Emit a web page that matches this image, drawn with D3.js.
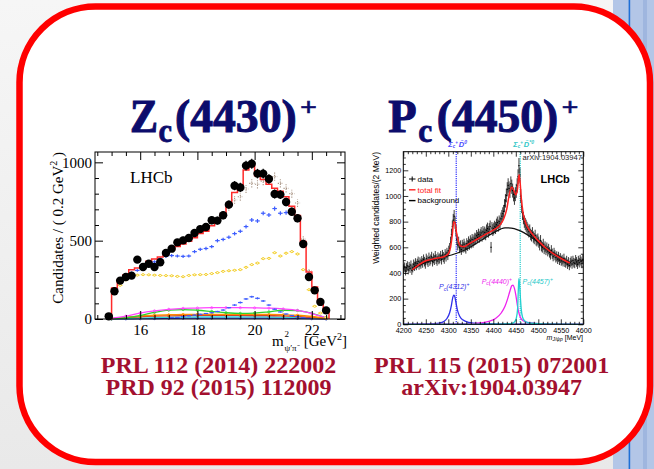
<!DOCTYPE html>
<html>
<head>
<meta charset="utf-8">
<script src="https://cdn.jsdelivr.net/npm/d3@7/dist/d3.min.js"></script>
<style>
html,body{margin:0;padding:0;overflow:hidden;background:#f0f0f0;}
svg{display:block;}
</style>
</head>
<body>
<svg id="slide" width="654" height="469"></svg>
<script>
// ---------- Z(4430)+ panel: m^2(psi' pi-) in 0.2 GeV^2 bins ----------
const zBin = 0.2;
const zDataStart = 14.9;
const zCounts = [17,177,245,268,277,379,332,353,332,362,
                 421,449,489,502,517,549,574,587,630,628,
                 662,730,851,840,979,991,928,928,894,798,
                 794,747,685,643,479,268,183,109,55];
const zFitStart = 15.1;
const zFit = [198,247,283,315,325,336,368,383,395,415,
              440,462,479,496,518,545,560,595,640,670,
              728,807,856,951,983,915,890,860,835,815,
              780,720,660,494,300,205,110,55];
const zAltStart = 18.9;
const zAltFit = [670,715,760,780,830,866,860,880,895,909,866,834,800,740,510,310,200];
const zBlueStart = 15.3;
const zBlue = [255,275,295,310,330,350,365,385,400,405,
               402,400,402,430,445,450,462,500,508,522,
               545,560,590,632,626,675,664,705,675,679,
               675,632,480,290,185,100,45];
const zYellowStart = 15.3;
const zYellow = [215,250,268,280,283,282,280,278,277,276,
                 272,270,278,282,283,284,290,296,304,308,
                 311,315,330,347,357,385,387,423,402,420,
                 430,415,315,187,81,38,10];
const zPeakStart = 17.1;
const zPeak = [8,10,15,20,25,30,35,40,48,57,72,89,105,128,142,132,115,89,62,45,32,22,15,8,4];
// small amplitude components
const compM2   = [15,15.5,16,16.5,17,17.5,18,18.5,19,19.5,20,20.5,21,21.5,22,22.5];
const compMag  = [4,18,38,52,62,68,70,72,72,72,71,69,64,55,35,8];
const compGrn  = [2,8,22,42,56,60,56,48,40,36,38,46,56,54,36,8];
const compOrg  = [3,12,20,24,27,29,30,30,30,30,30,29,27,24,16,4];
const compRed  = [2,8,14,18,20,22,23,23,23,23,22,21,20,16,10,3];
const compCyan = [1,3,6,9,11,12,13,14,14,14,14,13,12,10,6,2];
const compNavy = [0,1,2,3,4,5,5,6,6,6,6,5,5,4,2,0];
const zXTicks = [16,18,20,22];
const zYTicks = [0,500,1000];

// ---------- Pc panel: m(J/psi p) in 2 MeV bins ----------
const pcStart = 4201, pcBin = 2;
const pcCounts = [
 432,446,415,441,455,424,450,436,461,420,
 440,468,452,478,458,474,490,462,484,470,
 494,478,506,488,470,512,498,484,520,494,
 506,526,488,514,500,532,508,494,522,506,
 514,532,504,540,524,510,546,528,556,540,
 572,592,640,700,762,812,842,792,730,662,
 618,640,596,612,582,616,600,624,604,592,
 628,614,642,624,650,634,660,640,656,670,
 664,690,676,700,680,696,712,688,720,702,
 716,700,732,746,720,742,762,600,750,734,
 746,760,750,776,792,768,800,786,822,842,
 862,880,924,962,1004,1052,1082,1058,1040,1096,
 1072,1042,1012,984,1014,1040,1082,1150,1236,1162,
 1000,918,862,828,800,782,768,752,738,722,
 732,700,690,712,680,668,692,658,650,664,
 640,618,652,610,600,624,588,604,580,596,
 570,586,560,544,576,550,530,556,538,520,
 530,508,526,500,516,494,504,488,512,484,
 478,496,468,486,458,480,492,470,496,480,
 474,502,486,468,496,480,502,490,474,506];
const pcFit = [[4220,425],[4235,465],[4250,495],[4265,508],[4280,518],[4292,530],[4300,550],
 [4305,600],[4309,700],[4312,800],[4315,790],[4318,720],[4322,650],[4327,610],[4335,605],
 [4345,625],[4360,655],[4375,685],[4390,715],[4405,745],[4415,775],[4423,820],[4430,900],
 [4436,1020],[4441,1070],[4446,1040],[4450,1010],[4454,1060],[4457,1165],[4459,1130],
 [4462,990],[4466,870],[4472,790],[4480,735],[4490,690],[4500,650],[4520,585],[4540,535],
 [4560,495],[4570,477]];
const pcBkg = [[4220,423],[4240,468],[4263,501],[4285,520],[4307,540],[4337,579],[4374,657],
 [4400,712],[4426,752],[4440,750],[4456,734],[4485,677],[4522,579],[4559,501],[4570,475]];
const pc4312 = [[4200,0],[4260,3],[4280,10],[4290,22],[4297,45],[4303,90],[4307,150],[4310,210],
 [4312,228],[4314,220],[4317,170],[4320,115],[4325,65],[4332,35],[4345,15],[4370,5],[4420,1],[4600,0]];
const pc4440 = [[4200,0],[4340,3],[4370,10],[4390,22],[4405,45],[4418,90],[4426,140],[4432,200],
 [4437,260],[4441,300],[4444,305],[4447,280],[4450,230],[4453,160],[4456,100],[4460,55],
 [4466,28],[4480,12],[4510,4],[4600,0]];
const pc4457 = [[4200,0],[4420,2],[4440,6],[4447,18],[4451,45],[4454,120],[4456,300],[4457,355],
 [4458,330],[4460,220],[4462,120],[4465,55],[4470,25],[4480,10],[4510,3],[4600,0]];
const thresholds = [{m:4317.7, color:'#4b4bff'},{m:4459.9, color:'#3fd3d3'}];
const pcXTicks = d3.range(4200, 4601, 50);
const pcYTicks = d3.range(0, 1201, 200);

// ---------- page ----------
const svg = d3.select('#slide');
const defs = svg.append('defs');
const bgGrad = defs.append('linearGradient').attr('id','bgGrad')
  .attr('x1',0).attr('x2',0).attr('y1',0).attr('y2',1);
bgGrad.append('stop').attr('offset',0).attr('stop-color','#f6f6f6');
bgGrad.append('stop').attr('offset',1).attr('stop-color','#e9e9e9');
svg.append('rect').attr('width',654).attr('height',469).attr('fill','url(#bgGrad)');

// side strip of the slide template
const side = svg.append('g');
side.append('rect').attr('x',613).attr('y',0).attr('width',41).attr('height',469).attr('fill','#b3c6e7');
side.append('rect').attr('x',628.6).attr('y',0).attr('width',1.6).attr('height',469).attr('fill','#1f6fd6');
side.append('rect').attr('x',643).attr('y',0).attr('width',4).attr('height',469).attr('fill','#9fb6df');

// rounded card
svg.append('rect').attr('x',19.5).attr('y',6.5).attr('width',630.5).attr('height',455.5)
  .attr('rx',76).attr('ry',76).attr('fill','#ffffff').attr('stroke','#ff0000').attr('stroke-width',6.5);

const serif = "'Liberation Serif','Times New Roman',serif";
const sans = "'Liberation Sans',Arial,sans-serif";

// headline state names
const navy = '#0c0c6c';
function put(t, x, y, size, opts = {}) {
  const el = svg.append('text').attr('x',x).attr('y',y).attr('font-size',size)
    .attr('font-family', opts.family || serif).attr('font-weight', opts.weight || 'bold')
    .attr('fill', opts.fill || navy).text(t);
  if (opts.len) el.attr('textLength',opts.len).attr('lengthAdjust','spacingAndGlyphs');
  if (opts.anchor) el.attr('text-anchor',opts.anchor);
  if (opts.heavy) el.attr('stroke', opts.fill || navy).attr('stroke-width', opts.heavy);
  return el;
}
put('Z', 130, 131.7, 46, {len:28, heavy:1});
put('c', 158.5, 141.5, 33, {len:13.5, heavy:0.8});
put('(4430)', 175, 131.7, 46, {len:121.7, heavy:1});
put('+', 300, 116, 26, {len:17, heavy:0.6});
put('P', 388.3, 131.7, 46, {len:28.4, heavy:1});
put('c', 418.2, 141.5, 33, {len:14, heavy:0.8});
put('(4450)', 436.7, 131.7, 46, {len:121.6, heavy:1});
put('+', 561.5, 116, 26, {len:17, heavy:0.6});

// references
const crimson = '#a3102f';
put('PRL 112 (2014) 222002', 218.5, 373.3, 24, {fill:crimson, anchor:'middle'});
put('PRD 92 (2015) 112009', 218.5, 395, 24, {fill:crimson, anchor:'middle'});
put('PRL 115 (2015) 072001', 491.7, 373.3, 24, {fill:crimson, anchor:'middle'});
put('arXiv:1904.03947', 491.7, 395, 24, {fill:crimson, anchor:'middle'});

// ROOT-style frame: inward ticks on all four sides
function rootFrame(g, x, y, o) {
  const [xa, xb] = x.range(), [yb, ya] = y.range();
  const strip = sel => { sel.select('.domain').remove(); };
  const minorX = o.xMinor.filter(v => !o.xMajor.includes(v));
  const minorY = o.yMinor.filter(v => !o.yMajor.includes(v));
  const ax = (gen, tr, vals, size, fmt, pad) => {
    const a = g.append('g').attr('transform', tr)
      .call(gen.tickValues(vals).tickSizeInner(-size).tickSizeOuter(0).tickPadding(pad || 0).tickFormat(fmt))
      .call(strip);
    a.selectAll('line').attr('stroke','#000').attr('stroke-width', o.tickW || 1);
    return a;
  };
  const none = () => '';
  const bx = ax(d3.axisBottom(x), `translate(0,${yb})`, o.xMajor, o.major, o.xFmt || d3.format('d'), o.xPad);
  ax(d3.axisBottom(x), `translate(0,${yb})`, minorX, o.minor, none);
  ax(d3.axisTop(x), `translate(0,${ya})`, o.xMajor, o.major, none);
  ax(d3.axisTop(x), `translate(0,${ya})`, minorX, o.minor, none);
  const ly = ax(d3.axisLeft(y), `translate(${xa},0)`, o.yMajor, o.major, o.yFmt || d3.format('d'), o.yPad);
  ax(d3.axisLeft(y), `translate(${xa},0)`, minorY, o.minor, none);
  ax(d3.axisRight(y), `translate(${xb},0)`, o.yMajor, o.major, none);
  ax(d3.axisRight(y), `translate(${xb},0)`, minorY, o.minor, none);
  [bx, ly].forEach(a => a.selectAll('text').attr('font-family', o.font).attr('font-size', o.fontSize).attr('fill','#000'));
  g.append('rect').attr('x',xa).attr('y',ya).attr('width',xb-xa).attr('height',yb-ya)
    .attr('fill','none').attr('stroke','#000').attr('stroke-width', o.frameW || 1);
}

// ================= Z(4430) plot =================
const zg = svg.append('g');
const zx = d3.scaleLinear().domain([14.42, 23.16]).range([95, 345]);
const zy = d3.scaleLinear().domain([0, 1066]).range([319, 152]);
const binCenters = (start, n) => d3.range(n).map(i => +(start + i * zBin).toFixed(2));

// smooth low-amplitude components
const compLine = d3.line().x(d => zx(d[0])).y(d => zy(d[1])).curve(d3.curveMonotoneX);
const compArea = d3.area().x(d => zx(d[0])).y0(zy(0)).y1(d => zy(d[1])).curve(d3.curveMonotoneX);
zg.append('path').attr('d', compArea(compM2.map((m,i)=>[m, compCyan[i]]))).attr('fill','#bff3f3');
[[compNavy,'#2a2ad0'],[compCyan,'#33d6d6'],[compRed,'#d8402a'],[compOrg,'#ff8c00'],[compGrn,'#2ed02e'],[compMag,'#ff44ff']]
  .forEach(([vals, col]) => {
    const pts = compM2.map((m,i)=>[m, vals[i]]);
    zg.append('path').attr('d', compLine(pts)).attr('fill','none').attr('stroke',col).attr('stroke-width',1.3);
    zg.selectAll(null).data(pts).join('circle').attr('cx',d=>zx(d[0])).attr('cy',d=>zy(d[1]))
      .attr('r',1.1).attr('fill','none').attr('stroke',col).attr('stroke-width',0.8);
  });

// binned components drawn as marker crosses
function crosses(start, vals, color, opts) {
  const pts = binCenters(start, vals.length).map((m,i)=>({m, v:vals[i]}));
  const g = zg.append('g').attr('stroke', color).attr('stroke-width', opts.w || 1).attr('fill','none');
  if (opts.dash) g.attr('stroke-dasharray', opts.dash);
  const hw = opts.hw;
  g.selectAll(null).data(pts).join('line')
    .attr('x1', d=>zx(d.m-hw)).attr('x2', d=>zx(d.m+hw)).attr('y1', d=>zy(d.v)).attr('y2', d=>zy(d.v));
  g.selectAll(null).data(pts).join('line')
    .attr('x1', d=>zx(d.m)).attr('x2', d=>zx(d.m))
    .attr('y1', d=>zy(d.v - Math.sqrt(d.v)*opts.ev)).attr('y2', d=>zy(d.v + Math.sqrt(d.v)*opts.ev));
  if (opts.ring) g.selectAll(null).data(pts).join('ellipse')
    .attr('cx', d=>zx(d.m)).attr('cy', d=>zy(d.v)).attr('rx',1.3).attr('ry',1.0).attr('fill','#fff');
}
crosses(zYellowStart, zYellow, '#f4cf2a', {hw:0.08, ev:0.4, ring:true, w:1});
crosses(zPeakStart, zPeak, '#3d5dff', {hw:0.08, ev:0.6, w:1.2});
crosses(zBlueStart, zBlue, '#3d5dff', {hw:0.08, ev:0.5, w:1.2});
crosses(zAltStart, zAltFit, '#a89484', {hw:0.09, ev:0.9, w:1.1, dash:'1.2,1.2'});

// total fit histogram
const stepPts = [];
const fitCenters = binCenters(zFitStart, zFit.length);
stepPts.push([fitCenters[0] - zBin/2, 0]);
zFit.forEach((v,i) => { stepPts.push([fitCenters[i]-zBin/2, v]); stepPts.push([fitCenters[i]+zBin/2, v]); });
stepPts.push([fitCenters[fitCenters.length-1] + zBin/2, 0]);
zg.append('path').attr('d', d3.line().x(d=>zx(d[0])).y(d=>zy(d[1]))(stepPts))
  .attr('fill','none').attr('stroke','#ff2a2a').attr('stroke-width',1.5);

// data
const zPts = binCenters(zDataStart, zCounts.length).map((m,i)=>({m, v:zCounts[i]}));
zg.append('g').selectAll('line').data(zPts).join('line')
  .attr('x1', d=>zx(d.m)).attr('x2', d=>zx(d.m))
  .attr('y1', d=>zy(d.v - Math.sqrt(d.v))).attr('y2', d=>zy(d.v + Math.sqrt(d.v)))
  .attr('stroke','#000').attr('stroke-width',1.2);
zg.append('g').selectAll('circle').data(zPts).join('circle')
  .attr('cx', d=>zx(d.m)).attr('cy', d=>zy(d.v)).attr('r',4.2).attr('fill','#000');

rootFrame(zg, zx, zy, {
  xMajor: zXTicks, xMinor: d3.range(14.5, 23.01, 0.5),
  yMajor: zYTicks, yMinor: d3.range(0, 1001, 100),
  major: 8, minor: 4, font: serif, fontSize: 15, xPad: 5, yPad: 3, tickW: 1
});
zg.selectAll('text').attr('font-weight','normal');

zg.append('text').attr('x',130).attr('y',182.7).attr('font-family',serif).attr('font-size',17).text('LHCb');
// y title
const zyt = zg.append('text').attr('transform','translate(63,152) rotate(-90)').attr('text-anchor','end')
  .attr('font-family',serif).attr('font-size',15);
zyt.append('tspan').text('Candidates / ( 0.2 GeV');
zyt.append('tspan').attr('dy',-6).attr('font-size',10).text('2');
zyt.append('tspan').attr('dy',6).text(' )');
// x title
zg.append('text').attr('x',272).attr('y',345.5).attr('font-family',serif).attr('font-size',15).text('m');
zg.append('text').attr('x',284.5).attr('y',337).attr('font-family',serif).attr('font-size',9).text('2');
zg.append('text').attr('x',284.5).attr('y',350.5).attr('font-family',serif).attr('font-size',9).text('ψ\u2032π\u207B');
const zxt = zg.append('text').attr('x',347).attr('y',345.5).attr('text-anchor','end')
  .attr('font-family',serif).attr('font-size',15);
zxt.append('tspan').text('[GeV');
zxt.append('tspan').attr('dy',-6).attr('font-size',10).text('2');
zxt.append('tspan').attr('dy',6).text(']');

// ================= Pc plot =================
const pg = svg.append('g');
const px = d3.scaleLinear().domain([4200, 4600]).range([403.3, 583.3]);
const py = d3.scaleLinear().domain([0, 1345]).range([324.3, 151.7]);
const smooth = d3.line().x(d=>px(d[0])).y(d=>py(d[1])).curve(d3.curveMonotoneX);

// threshold markers
thresholds.forEach(t => {
  pg.append('line').attr('x1',px(t.m)).attr('x2',px(t.m)).attr('y1',py(1345)).attr('y2',py(0))
    .attr('stroke',t.color).attr('stroke-width',1.4).attr('stroke-dasharray','1.2,1');
});
function thrLabel(x, color, star) {
  const t = pg.append('text').attr('x',x).attr('y',146.5).attr('font-family',sans).attr('font-size',7.5)
    .attr('font-style','italic').attr('font-weight','bold').attr('fill',color);
  t.append('tspan').text('Σ');
  t.append('tspan').attr('dy',1.8).attr('font-size',4.5).text('c');
  t.append('tspan').attr('dy',-4.8).attr('font-size',4.5).text('+');
  t.append('tspan').attr('dx',1).attr('dy',3).text('D\u0304');
  t.append('tspan').attr('dy',-3).attr('font-size',5).text(star ? '*0' : '0');
}
thrLabel(px(thresholds[0].m) - 8, thresholds[0].color, false);
thrLabel(px(thresholds[1].m) - 7, '#32c8c8', true);

// resonance components
[[pc4312,'#2f2fe8'],[pc4440,'#ee22ee'],[pc4457,'#22d0d0']].forEach(([pts,col]) => {
  pg.append('path').attr('d', smooth(pts)).attr('fill','none').attr('stroke',col).attr('stroke-width',1.3);
});

// data
const pPts = pcCounts.map((v,i)=>({m: pcStart + i*pcBin, v}));
pg.append('g').selectAll('line').data(pPts).join('line')
  .attr('x1', d=>px(d.m)).attr('x2', d=>px(d.m))
  .attr('y1', d=>py(d.v - 1.7*Math.sqrt(d.v))).attr('y2', d=>py(d.v + 1.7*Math.sqrt(d.v)))
  .attr('stroke','#1a1a1a').attr('stroke-width',0.85);
pg.append('g').selectAll('rect').data(pPts).join('rect')
  .attr('x', d=>px(d.m)-0.6).attr('y', d=>py(d.v)-0.6).attr('width',1.2).attr('height',1.2).attr('fill','#000');

// background and total fit
pg.append('path').attr('d', smooth(pcBkg)).attr('fill','none').attr('stroke','#111').attr('stroke-width',1.3);
pg.append('path').attr('d', smooth(pcFit)).attr('fill','none').attr('stroke','#ff2020').attr('stroke-width',1.5);

rootFrame(pg, px, py, {
  xMajor: pcXTicks, xMinor: d3.range(4200, 4601, 10),
  yMajor: pcYTicks, yMinor: d3.range(0, 1301, 50),
  major: 5, minor: 2.5, font: sans, fontSize: 7.2, xPad: 3.5, yPad: 2, tickW: 0.8
});

// component labels
function pcLabel(x, y, mass, color) {
  const t = pg.append('text').attr('x',x).attr('y',y).attr('font-family',sans).attr('font-size',7)
    .attr('font-style','italic').attr('fill',color);
  t.append('tspan').text('P');
  t.append('tspan').attr('dy',1.8).attr('font-size',5).text('c');
  t.append('tspan').attr('dy',-1.8).text(`(${mass})`);
  t.append('tspan').attr('dy',-3).attr('font-size',5).text('+');
}
pcLabel(439, 289, 4312, '#2f2fe8');
pcLabel(481.7, 283.5, 4440, '#ee22ee');
pcLabel(522.5, 283.5, 4457, '#22c8c8');

// legend
const lg = pg.append('g').attr('font-family',sans).attr('font-size',8);
[['data','#000'],['total fit','#ff2020'],['background','#000']].forEach(([name,col],i) => {
  const yy = 179 + i*10.8;
  lg.append('line').attr('x1',409).attr('x2',415.5).attr('y1',yy).attr('y2',yy).attr('stroke',col).attr('stroke-width', i===0?1:1.4);
  if (i===0) lg.append('line').attr('x1',412.2).attr('x2',412.2).attr('y1',yy-2.5).attr('y2',yy+2.5).attr('stroke','#000');
  lg.append('text').attr('x',417.5).attr('y',yy+2.8).attr('fill', i===1?'#ff2020':'#000').text(name);
});

pg.append('text').attr('x',540.5).attr('y',182.5).attr('font-family',sans).attr('font-size',11)
  .attr('font-weight','bold').text('LHCb');
pg.append('text').attr('x',582).attr('y',159.5).attr('text-anchor','end').attr('font-family',sans)
  .attr('font-size',7.6).attr('fill','#222').text('arXiv:1904.03947');

// axis titles
pg.append('text').attr('transform','translate(379,152) rotate(-90)').attr('text-anchor','end')
  .attr('font-family',sans).attr('font-size',8.5).text('Weighted candidates/(2 MeV)');
const pxt = pg.append('text').attr('x',583).attr('y',339.5).attr('text-anchor','end')
  .attr('font-family',sans).attr('font-size',7);
pxt.append('tspan').attr('font-style','italic').text('m');
pxt.append('tspan').attr('dy',1.8).attr('font-size',5).attr('font-style','italic').text('J/ψp');
pxt.append('tspan').attr('dy',-1.8).text(' [MeV]');
</script>
</body>
</html>
